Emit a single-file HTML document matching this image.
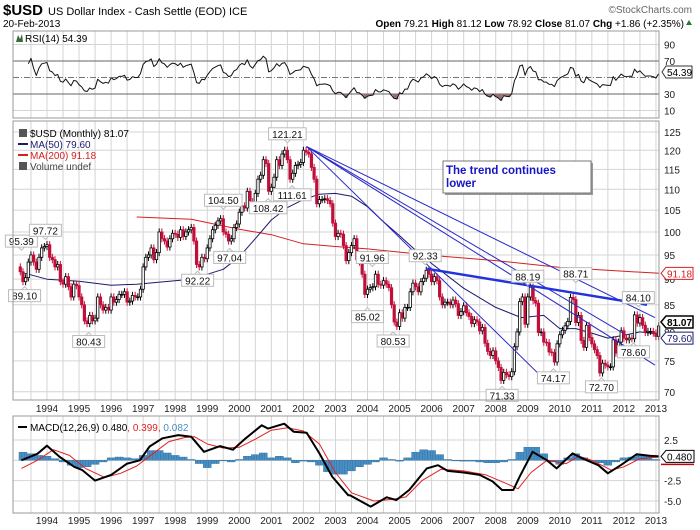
<!DOCTYPE html>
<html><head><meta charset="utf-8"><style>
body{margin:0;background:#fff;}
svg{display:block;font-family:"Liberation Sans",Arial,sans-serif;}
</style></head><body>
<svg id="c" width="700" height="530" viewBox="0 0 700 530" xmlns="http://www.w3.org/2000/svg">
<rect width="700" height="530" fill="#fff"/>
<g>
<text x="3" y="15" font-size="15" font-weight="bold">$USD</text>
<text x="48" y="15" font-size="11">US Dollar Index - Cash Settle (EOD) ICE</text>
<text x="692" y="13" font-size="10" fill="#666" text-anchor="end">©StockCharts.com</text>
<text x="3" y="27" font-size="10">20-Feb-2013</text>
<text x="684" y="27" font-size="10" text-anchor="end"><tspan font-weight="bold">Open</tspan> 79.21 <tspan font-weight="bold">High</tspan> 81.12 <tspan font-weight="bold">Low</tspan> 78.92 <tspan font-weight="bold">Close</tspan> 81.07 <tspan font-weight="bold">Chg</tspan> +1.86 (+2.35%)</text>
<path d="M686 25 L692 25 L689 20 Z" fill="#2a7a2a"/>
</g>
<g id="rsi"></g>
<g id="main"></g>
<g id="macd"></g>
</svg>
<script>
// ---------- DATA ----------
const startYear = 1993, startMonth = 2; // March 1993 (0-based month)
const closes = [
91.5,89.5,90.3,93.5,95.0,93.5,92.0,94.5,96.5,96.8,
97.2,94.5,94.0,92.5,93.0,89.5,89.0,90.5,88.5,86.5,89.0,88.7,
86.5,85.0,82.0,81.5,83.0,82.0,82.5,86.5,85.0,84.0,84.5,84.0,
86.5,85.5,86.0,87.0,87.0,87.5,85.5,85.7,86.8,86.5,86.5,88.0,
92.5,94.5,95.0,96.5,94.0,95.5,100.0,98.5,98.0,96.7,98.5,99.7,
99.5,98.8,100.5,99.0,100.0,100.5,101.0,98.0,93.0,92.5,94.5,94.2,
96.5,98.5,100.5,101.5,102.5,103.0,100.0,99.5,98.0,98.5,101.0,101.8,
104.5,106.0,105.5,109.5,107.0,106.0,109.0,112.5,113.5,117.5,116.5,109.5,
110.5,113.0,117.5,116.0,119.0,120.0,117.5,112.5,114.0,116.0,116.3,116.8,
120.0,119.5,119.0,115.5,112.5,106.5,107.5,107.5,107.7,107.3,106.5,102.0,
99.0,99.7,99.5,97.0,93.8,95.5,97.0,98.5,94.0,93.5,91.0,87.0,
88.0,88.3,88.5,91.0,89.0,88.8,89.7,89.0,88.3,85.0,81.8,81.0,
83.5,82.5,84.5,84.5,87.5,89.2,88.5,87.5,89.5,90.2,91.8,91.0,
89.5,90.5,89.7,86.5,85.0,85.5,85.5,85.0,85.9,85.2,83.0,83.7,
84.8,83.5,82.8,81.5,82.2,81.8,80.2,80.8,78.0,76.6,75.9,76.7,
75.0,73.9,71.8,73.1,72.7,72.4,73.2,77.4,80.0,85.6,86.5,81.4,
86.5,88.4,85.8,85.3,79.9,80.0,78.2,78.1,76.5,76.4,74.8,77.9,
79.5,80.3,81.1,81.9,86.4,86.0,81.7,83.0,78.5,77.3,81.2,79.0,
77.9,76.9,75.9,73.0,74.6,74.3,74.0,74.0,78.6,76.3,78.2,80.2,
78.9,78.6,78.9,78.8,83.1,81.6,82.6,81.2,79.9,80.1,80.1,79.8,
79.2,81.07];
const firstOpen = 92.5;
const ma50Dates = [1993.2,1994,1995,1996,1996.8,1998.5,1999.5,2000,2000.5,2001,2001.5,2002,2002.5,2003,2003.5,2004,2004.5,2005,2005.5,2006,2007,2008,2008.8,2009.5,2010,2010.5,2011,2011.5,2012,2012.5,2013.1];
const ma50Vals  = [91.4,90.0,89.6,88.8,89.0,90.0,92.0,94.6,98.5,102.7,105.6,107.5,108.8,109.0,108.3,105.8,102.3,99.2,96.0,93.2,88.2,84.5,82.6,83.0,80.6,80.6,79.8,78.9,79.4,80.0,79.6];
const ma200Dates = [1996.8,1998.5,2000,2001,2002,2003,2004,2006,2008,2010,2012,2013.1];
const ma200Vals  = [103.4,102.9,100.6,99.4,97.4,96.8,96.3,94.9,93.8,92.4,91.6,91.18];
const trendFrom = [[2002.1,121],[2002.1,121],[2002.1,121],[2002.1,121],[2005.86,92.1]];
const trendTo   = [[2009.35,72.8],[2012.97,74.3],[2011.97,79.8],[2012.97,82.6],[2012.72,85.0]];
const annDates = [1993.2,1993.95,1993.3,1995.3,1998.7,1999.5,1999.7,2000.9,2001.5,2001.65,2004.15,2004.0,2004.8,2005.8,2008.2,2009.0,2009.8,2010.5,2011.3,2012.45,2012.3];
const annVals  = [95.39,97.72,89.10,80.43,92.22,104.50,97.04,108.42,121.21,111.61,91.96,85.02,80.53,92.33,71.33,88.19,74.17,88.71,72.70,84.10,78.60];
const annSide  = ['up','up','dn','dn','dn','up','dn','dn','up','dn','up','dn','dn','up','dn','up','dn','up','dn','up','dn'];
const priceTicks = [70,75,80,85,90,95,100,105,110,115,120,125];
const yearLabels = [1994,1995,1996,1997,1998,1999,2000,2001,2002,2003,2004,2005,2006,2007,2008,2009,2010,2011,2012,2013];
const macdDates = [1993.2,1993.7,1994.0,1994.4,1994.85,1995.1,1995.5,1996.0,1996.5,1996.9,1997.2,1997.6,1998.1,1998.5,1998.9,1999.4,1999.8,2000.2,2000.7,2000.9,2001.4,2001.7,2002.1,2002.5,2002.9,2003.4,2003.45,2004.1,2004.6,2004.9,2005.3,2005.85,2006.2,2006.5,2007.0,2007.5,2007.9,2008.2,2008.55,2008.75,2009.15,2009.6,2009.9,2010.4,2010.7,2011.2,2011.5,2011.9,2012.4,2012.8,2013.1];
const macdVals  = [0,0.8,1.8,0.4,-0.8,-1.2,-2.5,-1.8,-0.4,0,1.7,2.7,3.1,2.9,1.05,1.75,1.3,2.7,4.3,3.9,4.5,3.5,3.4,0.85,-2.0,-4.3,-4.3,-5.7,-4.55,-4.9,-3.65,-1.0,-0.6,-1.3,-1.5,-1.8,-2.6,-3.65,-3.65,-2.0,1.05,0,-1.0,0.85,0.25,-0.6,-1.6,-0.6,0.75,0.55,0.48];
const sigDates = [1993.2,1993.7,1994.2,1994.7,1995.2,1995.8,1996.3,1996.8,1997.3,1997.8,1998.3,1998.6,1999.0,1999.5,2000.0,2000.5,2001.0,2001.5,2002.0,2002.5,2003.0,2003.5,2004.2,2004.8,2005.2,2005.7,2006.3,2007.0,2007.7,2008.3,2008.7,2009.1,2009.6,2010.2,2010.6,2011.0,2011.6,2012.0,2012.5,2013.1];
const sigVals  = [-1.0,0,1.3,0.6,-1.0,-2.1,-1.6,-0.7,0.8,2.3,2.8,2.9,2.0,1.5,1.6,2.6,3.7,4.0,3.6,2.0,-1.5,-4.0,-5.0,-4.8,-4.5,-2.5,-1.1,-1.3,-1.8,-2.8,-3.5,-1.5,0,-0.4,0.5,0,-1.2,-0.8,0.2,0.4];
const histStart = 1993.25;
const histVals = [1.0,0.8,0.6,0.5,0.2,-0.2,-0.6,-0.9,-0.8,-0.5,-0.2,0.3,0.4,0.3,0.2,0.6,1.2,1.2,0.9,0.6,0.4,0.1,-0.4,-0.9,-0.4,0,-0.2,0.1,0.5,0.7,0.9,0.3,0.5,0.3,-0.3,-0.1,-0.2,-0.6,-1.4,-1.7,-1.7,-1.3,-0.8,-0.5,-0.2,0.3,0.1,-0.1,0.3,1.0,1.3,1.2,0.7,0.1,0,-0.1,-0.1,-0.2,-0.3,-0.3,-0.2,0.1,1.0,1.6,1.6,0.8,-0.2,-0.5,0.3,0.8,0.3,-0.1,-0.3,-0.6,-0.2,0.3,0.4,0.7,0.5,0.1];
const macdTicks = [2.5,-2.5,-5.0];
const rsiTicks = [10,30,50,70,90];

// ---------- SCALES ----------
const NS='http://www.w3.org/2000/svg';
const L=13, R=659;
const xT = t => 47 + 32.05*(t-1994);
const yP = v => 132 + 448*Math.log(125/v);
const yR = v => 110.5 - (v-10)*0.825;
const yM = v => 460.3 - 8.13*v;
function mk(parent, tag, attrs, text){
  const e=document.createElementNS(NS,tag);
  for(const k in attrs) e.setAttribute(k,attrs[k]);
  if(text!==undefined) e.textContent=text;
  parent.appendChild(e); return e;
}
const gR=document.getElementById('rsi'), gP=document.getElementById('main'), gD=document.getElementById('macd');
function vgrid(g,y0,y1){
  for(let t=1993.5;t<=2013.01;t+=0.5){
    const x=xT(t); if(x<L||x>R) continue;
    const l=mk(g,'line',{x1:x,x2:x,y1:y0,y2:y1,stroke:'#d4d4d4','stroke-width':1});
    
    
  }
}
function frame(g,y0,y1,name){
  const r=mk(g,'rect',{x:L,y:y0,width:R-L,height:y1-y0,fill:'none',stroke:'#999'});
  
  
}
function xlabels(g,y){
  yearLabels.forEach(yr=>{
    const t=mk(g,'text',{x:xT(yr),y:y,'font-size':10,'text-anchor':'middle',fill:'#222'},String(yr));
    
    
  });
}
function polyline(g,dates,vals,ys,color,w,name){
  const pts=dates.map((d,i)=>xT(d).toFixed(1)+','+ys(vals[i]).toFixed(1)).join(' ');
  const p=mk(g,'polyline',{points:pts,fill:'none',stroke:color,'stroke-width':w,'stroke-linejoin':'round'});
  
  
}
const tOf = i => startYear + (startMonth+i)/12;

// ---------- RSI ----------
(function(){
  vgrid(gR,31,118);
  rsiTicks.forEach(v=>{
    const y=yR(v);
    const l=mk(gR,'line',{x1:L,x2:R,y1:y,y2:y,stroke:(v===30||v===70)?'#666':(v===50?'#777':'#d4d4d4'),'stroke-width':1});
    if(v===50) l.setAttribute('stroke-dasharray','6,2,1,2');
    
    
    if(v!==50){
      const t=mk(gR,'text',{x:664,y:y+4,'font-size':10,fill:'#222'},String(v));
      
      
    }
  });
  const rsi=[]; let ag=0,al=0; const n=14;
  for(let i=1;i<closes.length;i++){
    const d=closes[i]-closes[i-1], g=Math.max(d,0), lo=Math.max(-d,0);
    if(i<=n){ ag+=g/n; al+=lo/n; } else { ag=(ag*(n-1)+g)/n; al=(al*(n-1)+lo)/n; }
    if(i>=3){ const r=al===0?100:100-100/(1+ag/al); rsi.push([tOf(i),r]); }
  }
  let fillD='';
  rsi.forEach(([t,r])=>{ if(r<30){ const x=xT(t); fillD+=`M${x-1.4},${yR(30)}L${x-1.4},${yR(r)}L${x+1.4},${yR(r)}L${x+1.4},${yR(30)}Z`; }});
  const f=mk(gR,'path',{d:fillD,fill:'#9a7070'});
  
  
  polyline(gR,rsi.map(a=>a[0]),rsi.map(a=>a[1]),yR,'#111',1,'rsi-line');
  frame(gR,31,118,'rsi-frame');
  const lg=mk(gR,'text',{x:25,y:42,'font-size':10,fill:'#000'},'RSI(14) 54.39');
  
  
  const ic=mk(gR,'path',{d:'M16 42 L18 35 L20 39 L22 34 L23 42 Z',fill:'#3a6a3a'});
  
  
  const tag=mk(gR,'path',{d:'M662,72 L666,66 L692,66 L692,78 L666,78 Z',fill:'#fff',stroke:'#333'});
  
  
  const tt=mk(gR,'text',{x:667,y:76,'font-size':10},'54.39');
  
  
})();

// ---------- MAIN PRICE ----------
(function(){
  const y0=121,y1=400;
  vgrid(gP,y0,y1);
  priceTicks.forEach(v=>{
    const y=yP(v);
    const l=mk(gP,'line',{x1:L,x2:R,y1:y,y2:y,stroke:'#d4d4d4'});
    
    
    const t=mk(gP,'text',{x:664,y:y+4,'font-size':10,fill:'#222'},String(v));
    
    
  });
  polyline(gP,ma200Dates,ma200Vals,yP,'#d42020',1,'ma200-line');
  polyline(gP,ma50Dates,ma50Vals,yP,'#1a1a70',1,'ma50-line');
  closes.forEach((c,i)=>{
    const o=i===0?firstOpen:closes[i-1];
    const up=c>=o, x=xT(tOf(i));
    const hi=Math.max(o,c)*1.008, lo=Math.min(o,c)*0.992;
    const col=up?'#000':'#c0103a';
    const w=mk(gP,'line',{x1:x,x2:x,y1:yP(hi),y2:yP(lo),stroke:col,'stroke-width':1});
    
    
    const top=yP(Math.max(o,c)), bot=yP(Math.min(o,c));
    const b=mk(gP,'rect',{x:x-1.2,y:top,width:2.4,height:Math.max(bot-top,0.8),fill:up?'#fff':col,stroke:col,'stroke-width':0.8});
    
    
  });
  trendFrom.forEach((a,i)=>{
    const b=trendTo[i], thick=i===4;
    const l=mk(gP,'line',{x1:xT(a[0]),y1:yP(a[1]),x2:xT(b[0]),y2:yP(b[1]),stroke:thick?'#2233dd':'#2828c8','stroke-width':thick?2.4:1});
    
    
  });
  annDates.forEach((d,i)=>{
    const v=annVals[i], x=xT(d), yv=yP(v), up=annSide[i]==='up';
    const cy=up?yv-12:yv+12;
    const txt=v.toFixed(2), w=txt.length*5.6+4;
    const g=mk(gP,'g',{});
    
    
    mk(g,'path',{d:up?`M${x-3},${cy+6} L${x},${cy+9} L${x+3},${cy+6}`:`M${x-3},${cy-6} L${x},${cy-9} L${x+3},${cy-6}`,fill:'#fff',stroke:'#bbb'});
    mk(g,'rect',{x:x-w/2,y:cy-6,width:w,height:12,fill:'#fff',stroke:'#bbb'});
    mk(g,'text',{x:x,y:cy+4,'font-size':10,'text-anchor':'middle',fill:'#111'},txt);
  });
  const nb=mk(gP,'g',{});
  
  
  mk(nb,'rect',{x:445,y:163,width:148,height:32,fill:'#999'});
  mk(nb,'rect',{x:443,y:161,width:148,height:32,fill:'#fff',stroke:'#777'});
  mk(nb,'text',{x:446,y:174,'font-size':11.5,'font-weight':'bold',fill:'#1515c8'},'The trend continues');
  mk(nb,'text',{x:446,y:187,'font-size':11.5,'font-weight':'bold',fill:'#1515c8'},'lower');
  frame(gP,y0,y1,'price-frame');
  const lgs=[['$USD (Monthly) 81.07','#000'],['MA(50) 79.60','#1a1a70'],['MA(200) 91.18','#d42020'],['Volume undef','#444']];
  lgs.forEach((a,i)=>{
    const y=133+i*11;
    const t=mk(gP,'text',{x:30,y:y+4,'font-size':10,fill:a[1]},a[0]);
    
    
    if(i===1||i===2){ const l=mk(gP,'line',{x1:18,x2:28,y1:y,y2:y,stroke:a[1],'stroke-width':2});   }
    else { const r=mk(gP,'rect',{x:19,y:y-4,width:8,height:8,fill:'#555'});   }
  });
  xlabels(gP,412);
  const tags=[[91.18,'#d42020',false],[81.07,'#000',true],[79.60,'#1a1a70',false]];
  const tagY=[yP(91.18),yP(81.07)-4,yP(79.60)+4];
  tags.forEach((a,i)=>{
    const y=tagY[i];
    const p=mk(gP,'path',{d:`M661,${y} L666,${y-6} L693,${y-6} L693,${y+6} L666,${y+6} Z`,fill:'#fff',stroke:a[1],'stroke-width':a[2]?1.5:1});
    
    
    const t=mk(gP,'text',{x:667,y:y+4,'font-size':10,fill:a[1],'font-weight':a[2]?'bold':'normal'},a[0].toFixed(2));
    
    
  });
})();

// ---------- MACD ----------
(function(){
  const y0=416,y1=513;
  vgrid(gD,y0,y1);
  [2.5,0,-2.5,-5].forEach(v=>{
    const l=mk(gD,'line',{x1:L,x2:R,y1:yM(v),y2:yM(v),stroke:'#d4d4d4'});
    
    
  });
  macdTicks.forEach(v=>{
    const t=mk(gD,'text',{x:664,y:yM(v)+4,'font-size':10,fill:'#222'},v.toFixed(1));
    
    
  });
  histVals.forEach((h,i)=>{
    const t=histStart+i*0.25;
    const y=Math.min(yM(0),yM(h)), hh=Math.max(Math.abs(yM(h)-yM(0)),0.6);
    for(let k=0;k<3;k++){
      const x=xT(t)-4+k*2.67;
      const r=mk(gD,'rect',{x:x,y:y,width:2.67,height:hh,fill:'#4a8fc4',stroke:'#2f6f9f','stroke-width':0.4});
      
      
    }
  });
  polyline(gD,sigDates,sigVals,yM,'#e02020',1,'macd-signal-line');
  polyline(gD,macdDates,macdVals,yM,'#000',2,'macd-line');
  frame(gD,y0,y1,'macd-frame');
  const lg=mk(gD,'text',{x:30,y:431,'font-size':10},'');
  
  
  mk(lg,'tspan',{fill:'#000'},'MACD(12,26,9) 0.480');
  mk(lg,'tspan',{fill:'#e02020'},', 0.399, ');
  mk(lg,'tspan',{fill:'#4a8fc4'},'0.082');
  const sw=mk(gD,'line',{x1:18,x2:27,y1:427,y2:427,stroke:'#000','stroke-width':2});
  
  
  const y=yM(0.48);
  const p=mk(gD,'path',{d:`M661,${y} L666,${y-6} L694,${y-6} L694,${y+6} L666,${y+6} Z`,fill:'#fff',stroke:'#000'});
  
  
  const t=mk(gD,'text',{x:667,y:y+4,'font-size':10},'0.480');
  
  
  const rl=mk(gD,'line',{x1:661,x2:694,y1:y+8,y2:y+8,stroke:'#c00','stroke-width':1.5});
  
  
  xlabels(gD,524);
})();
</script>
</body></html>
